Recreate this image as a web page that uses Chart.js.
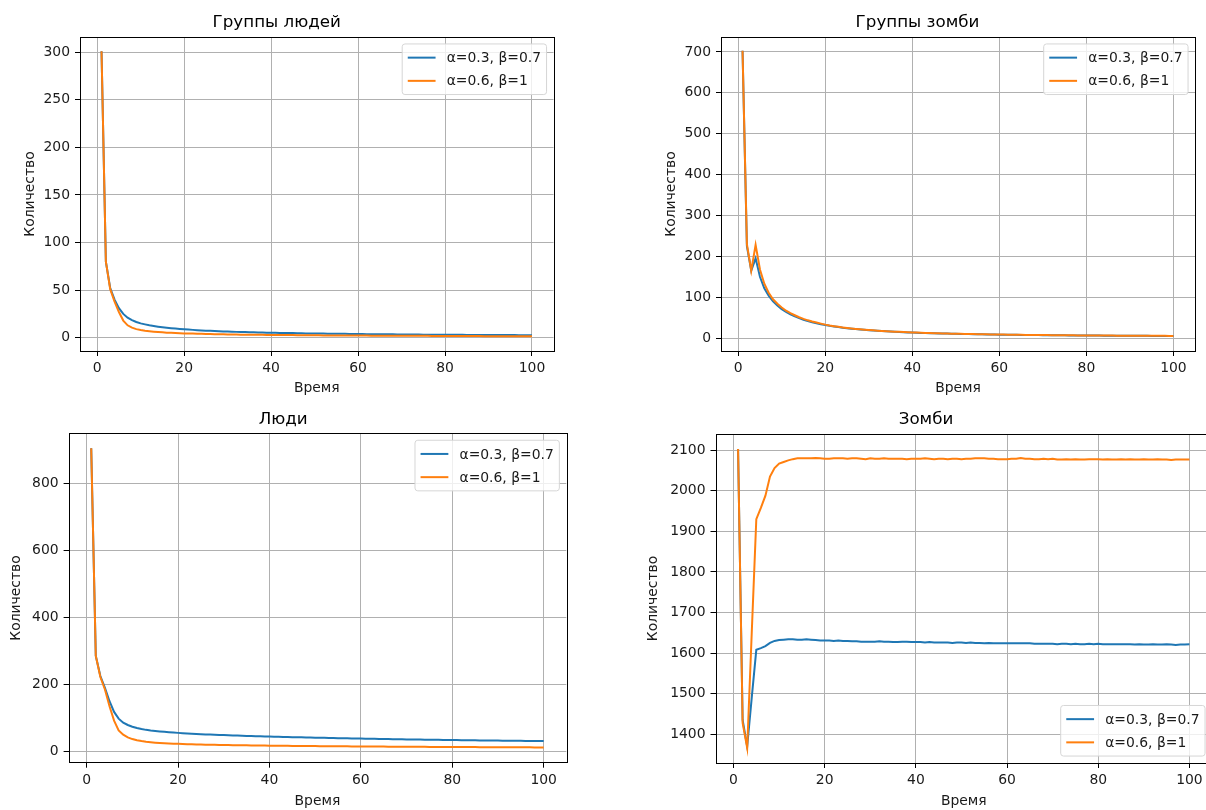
<!DOCTYPE html>
<html>
<head>
<meta charset="utf-8">
<title>Люди и зомби</title>
<script src="https://cdn.jsdelivr.net/npm/chart.js@4"></script>
<style>
  html, body { margin:0; padding:0; background:#fff; overflow:hidden; width:1206px; height:810px; }
  canvas { position:absolute; }
</style>
</head>
<body>
<canvas id="c1"></canvas>
<canvas id="c2"></canvas>
<canvas id="c3"></canvas>
<canvas id="c4"></canvas>
<script>
// time steps (x axis)
const time = [1,2,3,4,5,6,7,8,9,10,11,12,13,14,15,16,17,18,19,20,
  21,22,23,24,25,26,27,28,29,30,31,32,33,34,35,36,37,38,39,40,
  41,42,43,44,45,46,47,48,49,50,51,52,53,54,55,56,57,58,59,60,
  61,62,63,64,65,66,67,68,69,70,71,72,73,74,75,76,77,78,79,80,
  81,82,83,84,85,86,87,88,89,90,91,92,93,94,95,96,97,98,99,100];

const seriesLabels = ['α=0.3, β=0.7', 'α=0.6, β=1'];

// Группы людей
const humanGroupsA = [301,80,52,40,31,25,21,18.5,16.5,15,14,13,12.3,11.6,11,10.5,10,9.6,9.2,8.8,
  8.5,8.2,7.9,7.6,7.4,7.2,7.0,6.8,6.6,6.4,6.3,6.1,6.0,5.9,5.7,5.6,5.5,5.4,5.3,5.2,
  5.1,5.0,4.9,4.8,4.8,4.7,4.6,4.5,4.5,4.4,4.3,4.3,4.2,4.2,4.1,4.0,4.0,3.9,3.9,3.8,
  3.8,3.7,3.7,3.6,3.6,3.6,3.5,3.5,3.4,3.4,3.4,3.3,3.3,3.3,3.2,3.2,3.2,3.1,3.1,3.1,
  3.0,3.0,3.0,3.0,2.9,2.9,2.9,2.9,2.8,2.8,2.8,2.8,2.7,2.7,2.7,2.7,2.6,2.6,2.6,2.6];
const humanGroupsB = [301,80,51,38,27,18,13,10.5,9,8,7.3,6.8,6.3,5.9,5.6,5.3,5.1,4.9,4.7,4.5,
  4.4,4.3,4.1,4.0,3.9,3.8,3.7,3.6,3.5,3.4,3.4,3.3,3.2,3.2,3.1,3.1,3.0,3.0,2.9,2.9,
  2.8,2.8,2.7,2.7,2.7,2.6,2.6,2.6,2.5,2.5,2.5,2.4,2.4,2.4,2.3,2.3,2.3,2.3,2.2,2.2,
  2.2,2.2,2.1,2.1,2.1,2.1,2.0,2.0,2.0,2.0,2.0,1.9,1.9,1.9,1.9,1.9,1.8,1.8,1.8,1.8,
  1.8,1.8,1.7,1.7,1.7,1.7,1.7,1.7,1.6,1.6,1.6,1.6,1.6,1.6,1.6,1.5,1.5,1.5,1.5,1.5];

// Группы зомби
const zombieGroupsA = [703,225,165,195,150,122,104,90,80,71,64,58,53,49,45,42,39,36.5,34,32,
  30,28.5,27,25.5,24.3,23.2,22.1,21.1,20.2,19.4,18.6,17.9,17.2,16.6,16.0,15.5,15.0,14.5,14.0,13.6,
  13.2,12.8,12.5,12.1,11.8,11.5,11.2,11.0,10.7,10.5,10.2,10.0,9.8,9.6,9.4,9.2,9.0,8.9,8.7,8.5,
  8.4,8.3,8.1,8.0,7.9,7.7,7.6,7.5,7.4,7.3,7.2,7.1,7.0,6.9,6.8,6.7,6.6,6.5,6.5,6.4,
  6.3,6.2,6.2,6.1,6.0,6.0,5.9,5.8,5.8,5.7,5.6,5.6,5.5,5.5,5.4,5.4,5.3,5.3,5.2,5.2];
const zombieGroupsB = [703,230,165,228,168,133,111,95,84,75,67,61,56,51,47,43.5,40.5,38,35.5,33,
  31,29.3,27.7,26.2,24.9,23.7,22.6,21.6,20.6,19.8,19.0,18.2,17.5,16.9,16.3,15.8,15.3,14.8,14.3,13.9,
  13.5,13.1,12.7,12.4,12.0,11.7,11.4,11.2,10.9,10.7,10.4,10.2,10.0,9.8,9.6,9.4,9.2,9.1,8.9,8.7,
  8.6,8.5,8.3,8.2,8.1,7.9,7.8,7.7,7.6,7.5,7.4,7.3,7.2,7.1,7.0,6.9,6.8,6.7,6.7,6.6,
  6.5,6.4,6.4,6.3,6.2,6.2,6.1,6.0,6.0,5.9,5.8,5.8,5.7,5.7,5.6,5.6,5.5,5.5,5.4,5.4];

// Люди
const humansA = [905,285,225,190,150,118,98,86,79,74,70,67,64.5,62.5,61,59.7,58.5,57.4,56.4,55.5,
  54.6,53.8,53.0,52.3,51.6,51.0,50.4,49.8,49.3,48.8,48.3,47.8,47.3,46.9,46.5,46.1,45.7,45.3,44.9,44.5,
  44.1,43.8,43.4,43.1,42.8,42.4,42.1,41.8,41.5,41.2,40.9,40.6,40.3,40.0,39.8,39.5,39.2,39.0,38.7,38.5,
  38.2,38.0,37.7,37.5,37.3,37.0,36.8,36.6,36.4,36.1,35.9,35.7,35.5,35.3,35.1,34.9,34.7,34.5,34.3,34.1,
  34.0,33.8,33.6,33.4,33.3,33.1,32.9,32.8,32.6,32.5,32.3,32.2,32.0,31.9,31.7,31.6,31.5,31.3,31.2,31.1];
const humansB = [905,285,222,185,135,92,63,50,42,37,33.5,31,29,27.5,26.3,25.3,24.5,23.8,23.2,22.7,
  22.2,21.8,21.4,21.0,20.7,20.4,20.1,19.8,19.6,19.3,19.1,18.9,18.7,18.5,18.3,18.1,17.9,17.8,17.6,17.4,
  17.3,17.1,17.0,16.8,16.7,16.6,16.4,16.3,16.2,16.0,15.9,15.8,15.7,15.6,15.5,15.4,15.3,15.2,15.1,15.0,
  14.9,14.8,14.7,14.6,14.5,14.4,14.3,14.2,14.2,14.1,14.0,13.9,13.8,13.8,13.7,13.6,13.5,13.5,13.4,13.3,
  13.3,13.2,13.1,13.1,13.0,12.9,12.9,12.8,12.7,12.7,12.6,12.6,12.5,12.4,12.4,12.3,12.3,12.2,12.1,12.1];

// Зомби
const zombiesA = [2103,1435,1370,1490,1608,1612,1617,1625,1630,1632,1633,1634,1634,1633,1633,1634,1633,1632,1631,1631,
  1631,1630,1631,1630,1630,1629,1629,1628,1628,1628,1628,1629,1628,1628,1627,1627,1628,1628,1627,1627,
  1627,1626,1627,1626,1626,1626,1626,1625,1626,1626,1625,1626,1625,1625,1624,1625,1624,1624,1624,1624,
  1624,1624,1624,1624,1624,1623,1623,1623,1623,1623,1622,1623,1623,1622,1623,1622,1622,1623,1622,1623,
  1622,1622,1622,1622,1622,1622,1622,1621,1622,1621,1621,1622,1621,1621,1622,1621,1620,1621,1621,1622];
const zombiesB = [2103,1428,1366,1650,1930,1958,1988,2035,2056,2067,2071,2075,2078,2080,2080,2080,2080,2081,2080,2079,
  2079,2080,2080,2080,2079,2080,2080,2079,2078,2080,2079,2079,2080,2079,2079,2079,2079,2078,2079,2079,
  2079,2080,2079,2078,2079,2079,2078,2079,2079,2078,2079,2079,2080,2080,2080,2079,2079,2078,2078,2078,
  2079,2079,2081,2079,2079,2078,2078,2079,2078,2079,2077,2077,2078,2077,2078,2077,2077,2078,2078,2078,
  2077,2078,2077,2077,2078,2077,2078,2077,2077,2078,2077,2077,2078,2077,2077,2076,2077,2077,2077,2077];

// tick labels
const xTicks = [0,20,40,60,80,100];
const humanGroupTicks = [0,50,100,150,200,250,300];
const zombieGroupTicks = [0,100,200,300,400,500,600,700];
const humanTicks = [0,200,400,600,800];
const zombieTicks = [1400,1500,1600,1700,1800,1900,2000,2100];

const COLORS = ['#1f77b4', '#ff7f0e'];
const FONT = '"DejaVu Sans", "Liberation Sans", sans-serif';
const FS = 13.9;       // 10pt at 100 dpi
const TITLE_FS = 16.7; // 12pt

// frame + matplotlib-like legend box
const mplDecor = {
  id: 'mplDecor',
  afterDraw(chart, args, opts){
    const {ctx, chartArea:a} = chart;
    ctx.save();
    // spines
    ctx.strokeStyle = '#000';
    ctx.lineWidth = 1;
    ctx.strokeRect(Math.round(a.left)+0.5, Math.round(a.top)+0.5, Math.round(a.right-a.left), Math.round(a.bottom-a.top));
    // legend
    ctx.font = FS + 'px ' + FONT;
    const sets = chart.data.datasets;
    const tw = Math.max(...sets.map(d => ctx.measureText(d.label).width));
    const pad = 0.4*FS, hl = 2*FS, htp = 0.8*FS, rowH = FS*1.17, sp = 0.5*FS;
    const w = pad*2 + hl + htp + tw;
    const h = pad*2 + rowH*sets.length + sp*(sets.length-1);
    const x = a.right - 0.5*FS - w;
    const y = opts.loc === 'lower right' ? a.bottom - 0.5*FS - h : a.top + 0.5*FS;
    ctx.beginPath();
    if(ctx.roundRect) ctx.roundRect(x, y, w, h, 0.2*FS); else ctx.rect(x, y, w, h);
    ctx.fillStyle = 'rgba(255,255,255,0.8)';
    ctx.fill();
    ctx.strokeStyle = '#d6d6d6';
    ctx.stroke();
    sets.forEach((d, i) => {
      const cy = y + pad + rowH/2 + i*(rowH + sp);
      ctx.beginPath();
      ctx.moveTo(x + pad, cy);
      ctx.lineTo(x + pad + hl, cy);
      ctx.strokeStyle = d.borderColor;
      ctx.lineWidth = 2;
      ctx.stroke();
      ctx.fillStyle = '#1a1a1a';
      ctx.textBaseline = 'middle';
      ctx.textAlign = 'left';
      ctx.fillText(d.label, x + pad + hl + htp, cy + 1);
    });
    ctx.restore();
  }
};

function makeChart(cfg){
  const el = document.getElementById(cfg.id);
  const b = cfg.box;
  el.width = b.w; el.height = b.h;
  el.style.left = b.x + 'px'; el.style.top = b.y + 'px';
  const titleLH = TITLE_FS*1.2, labLH = FS*1.2;
  const tPadTop = (b.titleY - b.y) - titleLH/2;
  const tPadBottom = (b.T - b.y) - titleLH - tPadTop;
  const tickSet = arr => scale => { scale.ticks = arr.map(v => ({value:v})); };
  const grid = { color:'#b0b0b0', lineWidth:1, tickColor:'#000', tickLength:5, tickWidth:1, drawTicks:true };
  const tickFont = { family:FONT, size:FS };
  return new Chart(el, {
    type:'line',
    data:{
      labels: time,
      datasets: cfg.series.map((s, i) => ({
        label: seriesLabels[i], data: s, borderColor: COLORS[i], backgroundColor: COLORS[i],
        borderWidth: 2, pointRadius: 0, tension: 0, fill: false,
        order: cfg.series.length - 1 - i   // later series drawn on top, like matplotlib
      }))
    },
    options:{
      responsive:false, animation:false, devicePixelRatio:1,
      layout:{ padding:{ left:0, top:0, bottom:0, right: b.w - (b.R - b.x) } },
      plugins:{
        legend:{ display:false },
        tooltip:{ enabled:false },
        title:{ display:true, text:cfg.title, color:'#000',
          font:{ family:FONT, size:TITLE_FS, weight:'normal', lineHeight:1.2 },
          padding:{ top:tPadTop, bottom:tPadBottom } },
        mplDecor:{ loc: cfg.loc }
      },
      scales:{
        x:{
          type:'linear', min:-3.95, max:104.95,
          afterBuildTicks: tickSet(xTicks),
          afterFit: s => { s.height = b.h - (b.B - b.y); },
          grid, border:{ display:false },
          ticks:{ font:tickFont, color:'#1a1a1a', padding:4, maxRotation:0, autoSkip:false, callback: v => String(v) },
          title:{ display:true, text:'Время', color:'#1a1a1a', font:{ family:FONT, size:FS, lineHeight:1.2 },
            padding:{ top:0, bottom: (b.y + b.h) - b.xlabY - labLH/2 } }
        },
        y:{
          type:'linear', min:cfg.yMin, max:cfg.yMax,
          afterBuildTicks: tickSet(cfg.yTicks),
          afterFit: s => { s.width = b.L - b.x; },
          grid, border:{ display:false },
          ticks:{ font:tickFont, color:'#1a1a1a', padding:5, autoSkip:false, callback: v => String(v) },
          title:{ display:true, text:'Количество', color:'#1a1a1a', font:{ family:FONT, size:FS, lineHeight:1.2 },
            padding:{ top: b.ylabX - b.x - labLH/2, bottom:0 } }
        }
      }
    },
    plugins:[mplDecor]
  });
}

const panels = [
  { id:'c1', title:'Группы людей', series:[humanGroupsA, humanGroupsB], yTicks:humanGroupTicks,
    yMin:-14, yMax:316, loc:'upper right',
    box:{ x:0, y:0, w:600, h:400, L:80, T:37, R:553.5, B:351, titleY:22.8, ylabX:30, xlabY:388 } },
  { id:'c2', title:'Группы зомби', series:[zombieGroupsA, zombieGroupsB], yTicks:zombieGroupTicks,
    yMin:-31.5, yMax:736.5, loc:'upper right',
    box:{ x:640, y:0, w:566, h:400, L:721, T:37, R:1195, B:351, titleY:22.8, ylabX:671.5, xlabY:388 } },
  { id:'c3', title:'Люди', series:[humansA, humansB], yTicks:humanTicks,
    yMin:-33.5, yMax:949.5, loc:'upper right',
    box:{ x:0, y:400, w:600, h:410, L:68.6, T:433.3, R:566.3, B:762.7, titleY:419.5, ylabX:16, xlabY:801.5 } },
  { id:'c4', title:'Зомби', series:[zombiesA, zombiesB], yTicks:zombieTicks,
    yMin:1329, yMax:2140, loc:'lower right',
    box:{ x:640, y:400, w:580, h:410, L:715.5, T:434, R:1212, B:763, titleY:420, ylabX:653, xlabY:801.5 } }
];

window.addEventListener('load', () => { panels.forEach(makeChart); });
</script>
</body>
</html>
